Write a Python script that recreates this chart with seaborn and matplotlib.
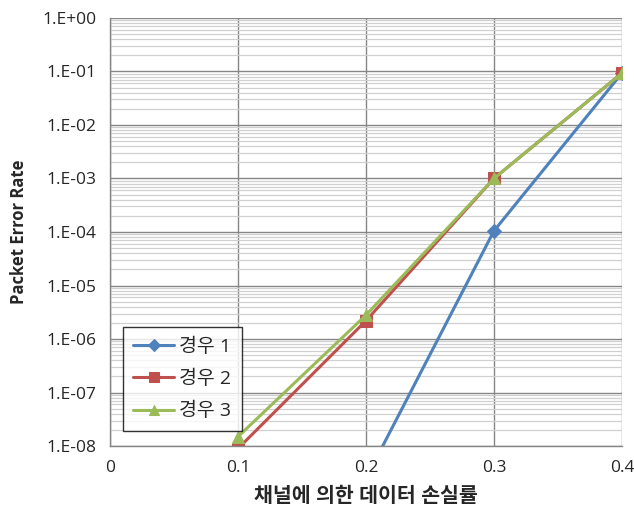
import numpy as np
import pandas as pd
import matplotlib
matplotlib.use("Agg")
import matplotlib.pyplot as plt
import matplotlib.ticker as mticker
import seaborn as sns

# data
loss_rate = [0.1, 0.2, 0.3, 0.4]
case1 = [1e-15, 2.5e-9, 1.05e-4, 0.093]
case2 = [9e-9, 2.2e-6, 1.0e-3, 0.093]
case3 = [1.5e-8, 2.8e-6, 1.0e-3, 0.093]
series_names = ["경우 1", "경우 2", "경우 3"]

df = pd.DataFrame({
    "x": loss_rate * 3,
    "y": case1 + case2 + case3,
    "case": [n for n in series_names for _ in loss_rate],
})

sns.set_style("white")
plt.rcParams["font.family"] = ["Open Sans", "Noto Sans CJK KR", "DejaVu Sans"]

colors = {"경우 1": "#4F81BD", "경우 2": "#C0504D", "경우 3": "#9BBB59"}
markers = {"경우 1": "D", "경우 2": "s", "경우 3": "^"}
msize = {"경우 1": 7, "경우 2": 8, "경우 3": 9}

fig = plt.figure(figsize=(6.34, 5.11), dpi=100)
ax = fig.add_axes([0.1735, 0.127, 0.8075, 0.838])

for name in series_names:
    sub = df[df["case"] == name]
    sns.lineplot(data=sub, x="x", y="y", ax=ax, color=colors[name],
                 marker=markers[name], markersize=msize[name],
                 markeredgecolor=colors[name], linewidth=2.2, label=name)

ax.set_yscale("log")
ax.set_xlim(0, 0.4)
ax.set_ylim(1e-8, 1)
ax.set_xticks([0, 0.1, 0.2, 0.3, 0.4])
ax.xaxis.set_major_formatter(mticker.FuncFormatter(lambda v, p: f"{v:g}"))
ax.yaxis.set_major_locator(mticker.LogLocator(base=10, numticks=20))
ax.yaxis.set_minor_locator(mticker.LogLocator(base=10, subs=np.arange(2, 10), numticks=20))
ax.yaxis.set_minor_formatter(mticker.NullFormatter())
ax.yaxis.set_major_formatter(mticker.FuncFormatter(
    lambda v, p: f"1.E{int(round(np.log10(v))):+03d}"))

ax.grid(which="major", axis="both", color="#868686", linewidth=1.0)
ax.grid(which="minor", axis="y", color="#D0D0D0", linewidth=0.9)
ax.set_axisbelow(True)

for s in ["top", "right"]:
    ax.spines[s].set_visible(False)
for s in ["left", "bottom"]:
    ax.spines[s].set_color("#868686")
    ax.spines[s].set_linewidth(1.0)

ax.tick_params(axis="both", which="major", direction="out", length=5,
               color="#868686", labelsize=12.5, pad=5)
ax.tick_params(axis="y", which="minor", length=0)

ax.set_xlabel("채널에 의한 데이터 손실률", fontsize=14.8, fontweight="bold", labelpad=7)
ax.set_ylabel("Packet Error Rate", fontsize=12, fontweight="bold", labelpad=10)

leg = ax.legend(loc="lower left", bbox_to_anchor=(0.025, 0.035), fontsize=14,
                frameon=True, fancybox=False, borderpad=0.55, handlelength=2.1,
                handletextpad=0.25, labelspacing=0.72, borderaxespad=0,
                markerscale=0.85)
leg.get_frame().set_edgecolor("black")
leg.get_frame().set_linewidth(1.0)

fig.savefig("out.png", dpi=100)
